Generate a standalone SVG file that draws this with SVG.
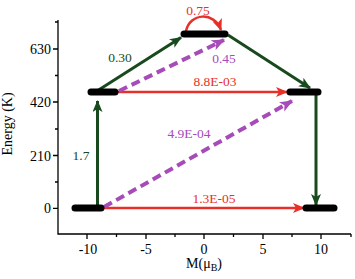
<svg xmlns="http://www.w3.org/2000/svg" width="355" height="279" viewBox="0 0 355 279">
<defs>
<style>
.ax{stroke:#000;stroke-width:1.3;fill:none}
.tk{font-family:"Liberation Serif","Times New Roman",serif;font-size:14px;fill:#000}
.lb{font-family:"Liberation Serif","Times New Roman",serif;font-size:13.5px}
.bar{stroke:#000;stroke-width:7;stroke-linecap:round;fill:none}
.g{stroke:#184a1e;stroke-width:3;fill:none}
.r{stroke:#e8302a;stroke-width:2.5;fill:none}
.p{stroke:#a64bb8;stroke-width:4;stroke-dasharray:9 5;fill:none}
</style>
<marker id="ag" viewBox="0 0 12 10" refX="11" refY="5" markerWidth="12" markerHeight="10" markerUnits="userSpaceOnUse" orient="auto"><path d="M0,0 L12,5 L0,10 L3,5 z" fill="#184a1e"/></marker>
<marker id="ar" viewBox="0 0 12 10" refX="11" refY="5" markerWidth="12" markerHeight="10" markerUnits="userSpaceOnUse" orient="auto"><path d="M0,0 L12,5 L0,10 L3,5 z" fill="#e8302a"/></marker>
<marker id="ap" viewBox="0 0 12 10" refX="11" refY="5" markerWidth="13" markerHeight="11" markerUnits="userSpaceOnUse" orient="auto"><path d="M0,0 L12,5 L0,10 L3,5 z" fill="#a64bb8"/></marker>
</defs>
<rect width="355" height="279" fill="#fff"/>
<g id="axes">
<path class="ax" d="M58,20 V234 H351"/>
<path class="ax" d="M58,49 h-5 M58,102 h-5 M58,155.5 h-5 M58,208.3 h-5 M58,22 h-3 M58,75.5 h-3 M58,129 h-3 M58,182 h-3"/>
<path class="ax" d="M87,234 v5 M146,234 v5 M204,234 v5 M263,234 v5 M321,234 v5 M116.5,234 v3 M175,234 v3 M233.5,234 v3 M292,234 v3 M351,234 v3"/>
<text class="tk" text-anchor="end" x="51" y="54">630</text>
<text class="tk" text-anchor="end" x="51" y="107">420</text>
<text class="tk" text-anchor="end" x="51" y="160.5">210</text>
<text class="tk" text-anchor="end" x="51" y="213">0</text>
<text class="tk" text-anchor="middle" x="88" y="254">-10</text>
<text class="tk" text-anchor="middle" x="146" y="254">-5</text>
<text class="tk" text-anchor="middle" x="204" y="254">0</text>
<text class="tk" text-anchor="middle" x="263" y="254">5</text>
<text class="tk" text-anchor="middle" x="321" y="254">10</text>
<text class="tk" text-anchor="middle" transform="translate(12,124) rotate(-90)">Energy (K)</text>
<text class="tk" text-anchor="middle" x="204" y="268">M(μ<tspan font-size="10" dy="3">B</tspan><tspan dy="-3">)</tspan></text>
</g>
<g id="connectors">
<path class="g" d="M97.5,205 V101" marker-end="url(#ag)"/>
<path class="g" d="M97,91 L181,37.5" marker-end="url(#ag)"/>
<path class="g" d="M228,35 L310,88" marker-end="url(#ag)"/>
<path class="g" d="M316,95 V205" marker-end="url(#ag)"/>
<path class="r" d="M118,92 H287" marker-end="url(#ar)"/>
<path class="r" d="M104,208 H304" marker-end="url(#ar)"/>
<path class="r" d="M186,31 C190,13 214,11 221,30" marker-end="url(#ar)"/>
<path class="p" d="M119,91 L224,40" marker-end="url(#ap)"/>
<path class="p" d="M104,207 L292,101" marker-end="url(#ap)"/>
</g>
<g id="level-ground-left"><path class="bar" d="M75,208 H101"/></g>
<g id="level-ground-right"><path class="bar" d="M306,208 H334"/></g>
<g id="level-mid-left"><path class="bar" d="M91,92 H115"/></g>
<g id="level-mid-right"><path class="bar" d="M290,92 H318"/></g>
<g id="level-top"><path class="bar" d="M184,34 H225"/></g>
<g id="labels">
<text class="lb" fill="#184a1e" text-anchor="middle" x="120" y="62">0.30</text>
<text class="lb" fill="#184a1e" text-anchor="middle" x="81" y="160">1.7</text>
<text class="lb" fill="#e8302a" text-anchor="middle" x="198" y="15">0.75</text>
<text class="lb" fill="#e8302a" text-anchor="middle" x="215" y="86">8.8E-03</text>
<text class="lb" fill="#e8302a" text-anchor="middle" x="214" y="203">1.3E-05</text>
<text class="lb" fill="#a64bb8" text-anchor="middle" x="224" y="63">0.45</text>
<text class="lb" fill="#a64bb8" text-anchor="middle" x="189" y="138">4.9E-04</text>
</g>
</svg>
